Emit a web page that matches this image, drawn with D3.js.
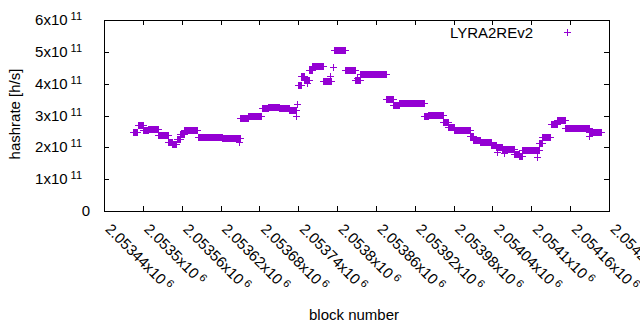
<!DOCTYPE html>
<html><head><meta charset="utf-8">
<script src="https://cdn.jsdelivr.net/npm/d3@7"></script>
<style>
body{margin:0;background:#fff}
svg{display:block}
text{font-family:"Liberation Sans",Arial,sans-serif;fill:#000}
</style>
</head><body>
<svg id="c" width="640" height="330"></svg>
<script>
// ---------- data ----------
const seriesName = "LYRA2REv2";
// runs of consecutive blocks that share the same estimated hashrate
const runStart = [2053485,2053492,2053500,2053508,2053523,2053539,2053545,2053552,2053557,2053563,
  2053585,2053622,2053650,2053662,2053684,2053694,2053710,2053725,2053739,2053745,
  2053749,2053756,2053761,2053778,2053795,2053812,2053828,2053835,2053876,2053886,
  2053896,2053935,2053941,2053964,2053972,2053981,2054006,2054010,2054020,2054038,
  2054046,2054055,2054074,2054081,2054086,2054112,2054117,2054131,2054140,2054152,2054189];
const runEnd = [2053491,2053500,2053508,2053523,2053539,2053545,2053551,2053557,2053563,2053583,
  2053622,2053650,2053662,2053682,2053693,2053710,2053725,2053737,2053745,2053749,
  2053756,2053761,2053778,2053790,2053812,2053828,2053835,2053876,2053886,2053896,
  2053935,2053941,2053964,2053972,2053981,2054006,2054010,2054020,2054038,2054046,
  2054055,2054074,2054081,2054086,2054112,2054117,2054129,2054140,2054152,2054189,2054208];
const runHashrate = [2.48e11,2.70e11,2.56e11,2.58e11,2.40e11,2.17e11,2.09e11,2.26e11,2.42e11,2.54e11,
  2.32e11,2.28e11,2.93e11,3.00e11,3.22e11,3.28e11,3.25e11,3.17e11,3.96e11,4.24e11,
  4.13e11,4.43e11,4.56e11,4.07e11,5.05e11,4.43e11,4.10e11,4.30e11,3.53e11,3.33e11,
  3.38e11,2.98e11,3.03e11,2.80e11,2.64e11,2.56e11,2.37e11,2.24e11,2.17e11,2.07e11,
  2.01e11,1.96e11,1.80e11,1.73e11,1.91e11,2.15e11,2.32e11,2.72e11,2.86e11,2.60e11,2.48e11];
// isolated points
const singleBlock = [2053648,2053736,2053738,2053753,2053789,2053793,2053830,2054047,2054058,2054109,2054189];
const singleHashrate = [2.18e11,3.00e11,3.36e11,4.02e11,4.24e11,4.52e11,4.18e11,1.86e11,1.82e11,1.70e11,2.36e11];

const xTicks = [2053440,2053500,2053560,2053620,2053680,2053740,2053800,2053860,2053920,2053980,2054040,2054100,2054160,2054220];
const xTickMantissa = ["2.05344","2.0535","2.05356","2.05362","2.05368","2.05374","2.0538","2.05386","2.05392","2.05398","2.05404","2.0541","2.05416","2.05422"];
const xTickExponent = "6";
const yTicks = [0,1e11,2e11,3e11,4e11,5e11,6e11];
const yTickMantissa = ["0","1","2","3","4","5","6"];
const yTickExponent = "11";
const xTitle = "block number";
const yTitle = "hashrate [h/s]";

// ---------- drawing ----------
const color = "#9400d3";
const svg = d3.select("#c");
const L = 104, R = 609, T = 20, B = 211;
const x = d3.scaleLinear().domain([2053440, 2054220]).range([L, R]);
const y = d3.scaleLinear().domain([0, 6e11]).range([B, T]);
const px = v => Math.round(v) + 0.5;

// points
const pts = [];
runStart.forEach((s, i) => { for (let b = s; b <= runEnd[i]; b++) pts.push([b, runHashrate[i]]); });
singleBlock.forEach((b, i) => pts.push([b, singleHashrate[i]]));
const plus = "M-3.5,0H3.5M0,-3.5V3.5";
svg.append("g").attr("shape-rendering", "crispEdges")
  .selectAll("path").data(pts).join("path")
  .attr("d", plus)
  .attr("transform", d => `translate(${px(x(d[0]))},${px(y(d[1]))})`)
  .attr("stroke", color).attr("stroke-width", 1).attr("fill", "none");

// frame and ticks
const ax = svg.append("g").attr("shape-rendering", "crispEdges").attr("stroke", "#000").attr("stroke-width", 1);
ax.append("rect").attr("x", L + 0.5).attr("y", T + 0.5).attr("width", R - L).attr("height", B - T).attr("fill", "none");
xTicks.forEach(t => {
  const xx = px(x(t));
  ax.append("line").attr("x1", xx).attr("x2", xx).attr("y1", B).attr("y2", B - 5);
  ax.append("line").attr("x1", xx).attr("x2", xx).attr("y1", T).attr("y2", T + 5);
});
yTicks.forEach(t => {
  const yy = px(y(t));
  ax.append("line").attr("y1", yy).attr("y2", yy).attr("x1", L).attr("x2", L + 5);
  ax.append("line").attr("y1", yy).attr("y2", yy).attr("x1", R).attr("x2", R - 5);
});

// y tick labels
yTicks.forEach((t, i) => {
  const tx = svg.append("text").attr("font-size", 15)
    .attr("x", t === 0 ? 90 : 82).attr("y", y(t) + 5).attr("text-anchor", "end");
  if (t === 0) { tx.text(yTickMantissa[i]); return; }
  tx.append("tspan").text(yTickMantissa[i] + "x10");
  tx.append("tspan").attr("font-size", 11).attr("dx", 3).attr("dy", -5).text(yTickExponent);
});

// x tick labels (rotated)
xTicks.forEach((t, i) => {
  const g = svg.append("g").attr("transform", `translate(${x(t) + 0.5},230) rotate(45)`);
  const tx = g.append("text").attr("font-size", 15).attr("text-anchor", "start");
  tx.append("tspan").text(xTickMantissa[i] + "x10");
  tx.append("tspan").attr("font-size", 11).attr("dx", 3).attr("dy", -5).text(xTickExponent);
});

// titles
svg.append("text").attr("font-size", 15).attr("text-anchor", "middle")
  .attr("x", 354).attr("y", 320).text(xTitle);
svg.append("text").attr("font-size", 15).attr("text-anchor", "middle")
  .attr("transform", "translate(20,114) rotate(-90)").text(yTitle);

// legend
svg.append("text").attr("font-size", 15).attr("text-anchor", "end")
  .attr("x", 533).attr("y", 37.5).text(seriesName);
svg.append("path").attr("d", plus).attr("transform", "translate(567.5,32.5)")
  .attr("stroke", color).attr("fill", "none").attr("shape-rendering", "crispEdges");
</script>
</body></html>
